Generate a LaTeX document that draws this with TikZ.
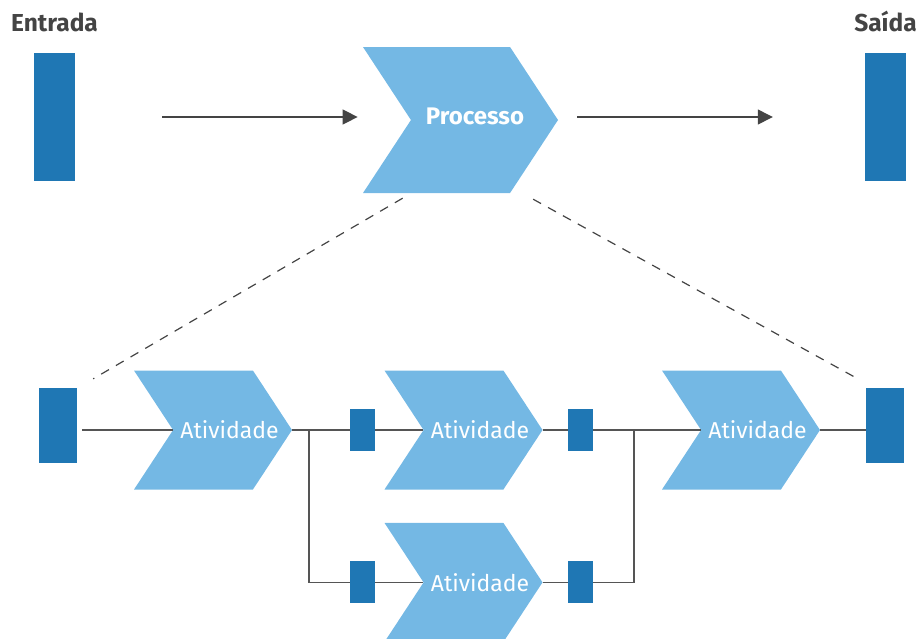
\documentclass[tikz,border=0pt]{standalone}
\usepackage{fontspec}
\setmainfont{Fira Sans}
\usetikzlibrary{arrows.meta, positioning, calc, shapes.symbols}

\definecolor{barblue}{HTML}{1F77B4}
\definecolor{chevblue}{HTML}{74B8E4}
\definecolor{txtgray}{HTML}{444444}
\definecolor{wiregray}{HTML}{555555}

\begin{document}
\begin{tikzpicture}[
    x=1pt, y=-1pt,
    node distance = 20pt and 20pt,
    >=Triangle,
    font=\fontsize{23}{26}\selectfont,
    bigbar/.style = {rectangle, fill=barblue, minimum width=41pt, minimum height=128pt, inner sep=0pt},
    midbar/.style = {rectangle, fill=barblue, minimum width=38pt, minimum height=75pt, inner sep=0pt},
    smallbar/.style = {rectangle, fill=barblue, minimum width=25pt, minimum height=42pt, inner sep=0pt},
    chev/.style = {signal, signal from=west, signal to=east, signal pointer angle=113.4, fill=chevblue, inner sep=0pt, minimum width=158pt, minimum height=119pt,
                   label={[text=white, xshift=16.5pt]center:#1}},
    bigchev/.style = {signal, signal from=west, signal to=east, signal pointer angle=113.4, fill=chevblue, inner sep=0pt, minimum width=195pt, minimum height=146pt,
                   label={[text=white, xshift=14.5pt, yshift=3.5pt, font=\fontsize{24}{26}\selectfont\bfseries]center:#1}},
    title/.style = {text=txtgray, font=\fontsize{24.5}{27}\selectfont\bfseries, inner sep=0pt},
    arrow/.style = {-{Triangle[length=15pt, width=15pt]}, draw=txtgray, fill=txtgray, line width=1.3pt},
    wire/.style = {draw=wiregray, line width=1.5pt},
    zoomline/.style = {draw=txtgray, line width=1.2pt, dash pattern=on 9pt off 8pt}
]
\useasboundingbox (0,0) rectangle (920,638);

% =========================================================
% TOP ROW: input, process, output
% =========================================================
\node[bigbar] (in) at (54.5,117) {};
\node[bigbar] (out) at (885.5,117) {};
\node[title, above=21pt of in] (inlbl) {Entrada};
\node[title, above=21pt of out] (outlbl) {Saída};
\node[bigchev=Processo] (proc) at (460.5,120) {};

\draw[arrow] ([xshift=87pt]in.east) -- ([xshift=-5pt]in.east -| proc.north west);
\draw[arrow] ([xshift=19pt]in.east -| proc.east) -- ([xshift=-92pt]out.west);

% =========================================================
% BOTTOM ROW: activities
% =========================================================
\node[midbar] (lin) at (58,425.5) {};
\node[midbar] (rout) at (885,425.5) {};

\node[chev=Atividade] (a1) at (213,430) {};
\node[chev=Atividade] (a2) at (463.5,430) {};
\node[chev=Atividade] (a3) at (741,430) {};
\node[chev=Atividade, below=33pt of a2] (a4) {};

\node[smallbar] (b1) at (362.5,430) {};
\node[smallbar] (b2) at (580.5,430) {};
\node[smallbar, below=110pt of b1] (b3) {};
\node[smallbar, below=110pt of b2] (b4) {};

% branch points
\coordinate (jl) at ($(a1.east)+(17,0)$);
\coordinate (jr) at ($(b2.east)+(41,0)$);

% =========================================================
% WIRING
% =========================================================
\draw[wire] ([xshift=5pt]lin.east |- a1.west) -- (a1.west);
\draw[wire] (a1.east) -- (b1.west);
\draw[wire] (b1.east) -- (a2.west);
\draw[wire] (a2.east) -- (b2.west);
\draw[wire] (b2.east) -- (a3.west);
\draw[wire] (a3.east) -- (a3.east -| rout.west);

\draw[wire] (jl) |- (b3.west);
\draw[wire] (b3.east) -- (a4.west);
\draw[wire] (a4.east) -- (b4.west);
\draw[wire] (b4.east) -| (jr);

% =========================================================
% ZOOM LINES (dashed)
% =========================================================
\draw[zoomline] ($(proc.south west)+(40,5)$) -- ($(lin.north east)+(16,-9)$);
\draw[zoomline] ($(proc.south east)+(23,6)$) -- ($(rout.north west)+(-8,-9)$);

\end{tikzpicture}
\end{document}
